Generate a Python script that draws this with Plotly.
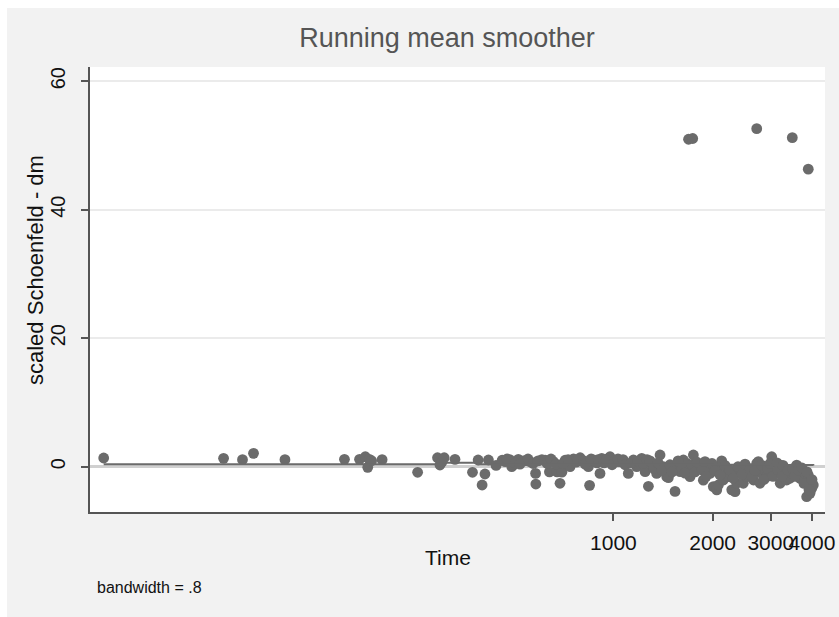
import math
import plotly.graph_objects as go

# ---- data (time on log axis, scaled Schoenfeld residual) ----
time_vals = [
    28.5, 65.8, 75.1, 81.1, 101, 153, 170, 177, 180, 182, 185, 199, 255, 293, 298, 302, 307, 331,
    374, 389, 400, 408, 418, 441, 470, 485, 492, 498, 515, 534, 547, 559, 581, 582, 607, 640, 658,
    675, 689, 698, 714, 739, 757, 793, 840, 847, 870, 891, 911, 922, 966, 977, 1012, 1024, 1048,
    1110, 1150, 1177, 1219, 1248, 1277, 1307, 1353, 1385, 1417, 1434, 1451, 1468, 1538, 1556,
    1593, 1630, 1669, 1688, 1708, 1748, 1810, 1831, 1874, 1941, 1963, 2009, 2058, 2081, 2090,
    2130, 2154, 2206, 2231, 2285, 2338, 2366, 2392, 2420, 2477, 2536, 2565, 2656, 2660, 2720,
    2751, 2783, 2817, 2882, 2916, 3020, 3090, 3200, 3205, 3313, 3353, 3431, 3472, 3595, 3679,
    3685, 3765, 3809, 3855, 3898, 3900, 3945, 3992, 3995, 4037,
    460, 476, 504, 521, 551, 571, 591, 621, 630, 647, 670, 704, 729, 771, 782, 815, 821, 856,
    899, 937, 950, 991, 1033, 1070, 1085, 1131, 1188, 1230, 1265, 1292, 1328, 1366, 1405, 1485,
    1506, 1571, 1615, 1649, 1732, 1768, 1793, 1857, 1896, 1910, 1991, 2033, 2105, 2180, 2258,
    2306, 2387, 2455, 2507, 2596, 2633, 2688, 2822, 2862, 2943, 2984, 3047, 3134, 3156, 3245,
    3268, 3384, 3504, 3553, 3628, 3731, 3784, 3864, 3917, 4001,
    1690, 1740, 2720, 3487, 3898,
]
resid_vals = [
    1.35, 1.3, 1.1, 2.08, 1.1, 1.15, 1.15, 1.55, -0.1, 1.15, 0.93, 1.1, -0.87, 1.4, 0.26, 0.7, 1.4,
    1.15, -0.87, 1.04, -2.85, -1.14, 1.04, 0.2, 0.78, 1.1, 0.0, 0.3, 1.15, 0.9, 0.93, 0.78, -1.04,
    -2.7, 1.1, -0.8, 0.78, -0.8, -2.58, -0.85, 1.0, 0.0, 1.2, 1.4, 0.0, -2.9, 1.04, 0.6, -1.04,
    1.3, 1.3, 1.55, 1.0, 0.78, 0.78, -1.04, 1.04, 0.0, 1.3, -0.78, -3.05, 0.3, -1.04, 1.82, 0.0,
    -0.78, -1.56, -1.7, -3.85, 0.26, -0.78, 1.04, 0.52, -0.26, -1.56, 1.82, 0.0, 0.0, -2.1, 0.0,
    -1.04, -3.1, -3.6, -2.85, 0.0, 0.9, -2.07, -1.04, -1.56, -3.6, -3.89, -2.58, -1.04, -0.52,
    -2.58, -1.56, -0.78, -1.04, -2.07, 0.52, 0.78, -2.58, -1.04, -0.52, -1.56, 1.55, -0.9, 0.26,
    -2.58, -1.04, -2.07, -1.8, -1.04, 0.26, -1.04, -1.82, -1.8, -1.04, -4.67, -1.3, -2.58, -4.15,
    -3.1, -3.37, -2.85,
    1.0, 1.2, 0.6, 0.4, 1.2, 0.5, 0.9, 1.0, 0.5, 1.2, 0.4, 0.5, 1.1, 0.7, 1.0, 0.9, 0.4, 1.2,
    1.1, 0.6, 1.0, 0.3, 1.2, 1.1, 0.3, 0.6, 0.9, 0.5, 1.1, 0.9, -0.3, 0.6, -0.5, 0.3,
    -0.8, 0.9, -0.3, -1.0, 0.3, -0.8, 0.7, -0.5, 0.8, -1.5, 0.5, -0.6, -1.3, 0.2, -0.5,
    -1.8, 0.0, -1.2, 0.4, -0.3, -1.5, -0.6, 0.2, -2.0, -0.3, 0.5, -1.5, 0.6, -0.5, -1.5,
    0.2, -0.5, -0.3, -1.5, -0.5, -0.2, -2.6, -0.8, -3.6, -2.0,
    50.96, 51.07, 52.6, 51.2, 46.3,
]

# running mean smoother (bandwidth = .8)
smooth_time = [28.5, 255, 285, 300, 370, 390, 1000, 2000, 3000, 4037]
smooth_vals = [0.37, 0.37, 0.37, 0.62, 0.62, 0.4, 0.4, 0.3, 0.25, 0.2]

x_ticks = [1000, 2000, 3000, 4000]
x_tick_labels = ["1000", "2000", "3000", "4000"]
y_ticks = [0, 20, 40, 60]
y_tick_labels = ["0", "20", "40", "60"]

FONT = "Liberation Sans, Arial, sans-serif"
W, H = 839, 617
L, R, T, B = 90, 14, 67, 105
PW, PH = W - L - R, H - T - B


def px_x(px):
    return (px - L) / PW


def px_y(py):
    return (H - B - py) / PH


fig = go.Figure()
fig.add_trace(go.Scatter(
    x=time_vals, y=resid_vals, mode="markers",
    marker=dict(color="#6b6b6b", size=10.8, line=dict(width=0)),
    showlegend=False, hoverinfo="skip",
))
fig.add_trace(go.Scatter(
    x=smooth_time, y=smooth_vals, mode="lines",
    line=dict(color="#6b6b6b", width=2, shape="hv"),
    showlegend=False, hoverinfo="skip",
))

fig.update_layout(
    width=W, height=H,
    margin=dict(l=L, r=R, t=T, b=B, pad=0, autoexpand=False),
    paper_bgcolor="#f2f2f2",
    plot_bgcolor="#ffffff",
    font=dict(family=FONT, color="#000000"),
    title=dict(text="Running mean smoother", x=447 / W, xanchor="center",
               y=1 - 38 / H, yanchor="middle", yref="container",
               font=dict(size=27, color="#555555", family=FONT)),
    xaxis=dict(
        type="log", range=[math.log10(25.9), math.log10(4381)],
        automargin=False,
        tickmode="array", tickvals=x_ticks, ticktext=x_tick_labels,
        tickangle=0,
        ticks="outside", ticklen=7, tickwidth=1.5, tickcolor="#555555",
        showline=True, linecolor="#555555", linewidth=1.5,
        showgrid=False, zeroline=False,
        tickfont=dict(size=21, color="#111111"), ticklabelstandoff=4,
    ),
    yaxis=dict(
        range=[-7.05, 62.2],
        automargin=False,
        tickmode="array", tickvals=y_ticks, ticktext=y_tick_labels,
        tickangle=-90,
        ticks="outside", ticklen=7, tickwidth=1.5, tickcolor="#555555",
        showline=True, linecolor="#555555", linewidth=1.5,
        showgrid=True, gridcolor="#ebebeb", gridwidth=1.5,
        zeroline=True, zerolinecolor="#d0d0d0", zerolinewidth=2.5,
        tickfont=dict(size=20, color="#111111"), ticklabelstandoff=8,
    ),
    annotations=[
        dict(text="Time", xref="paper", yref="paper", x=px_x(448), y=px_y(557),
             xanchor="center", yanchor="middle", showarrow=False,
             font=dict(size=21, color="#111111")),
        dict(text="scaled Schoenfeld - dm", xref="paper", yref="paper",
             x=px_x(35), y=px_y(270), textangle=-90,
             xanchor="center", yanchor="middle", showarrow=False,
             font=dict(size=22, color="#111111")),
        dict(text="bandwidth = .8", xref="paper", yref="paper",
             x=px_x(95), y=px_y(587), xanchor="left", yanchor="middle",
             showarrow=False, font=dict(size=16, color="#111111")),
    ],
    shapes=[
        # white outer border (top / left)
        dict(type="rect", xref="paper", yref="paper", layer="below",
             x0=px_x(-5), x1=px_x(W + 5), y0=px_y(8), y1=px_y(-5),
             fillcolor="#ffffff", line=dict(width=0)),
        dict(type="rect", xref="paper", yref="paper", layer="below",
             x0=px_x(-5), x1=px_x(7), y0=px_y(H + 5), y1=px_y(-5),
             fillcolor="#ffffff", line=dict(width=0)),
    ],
)

fig.write_html("out.html")
